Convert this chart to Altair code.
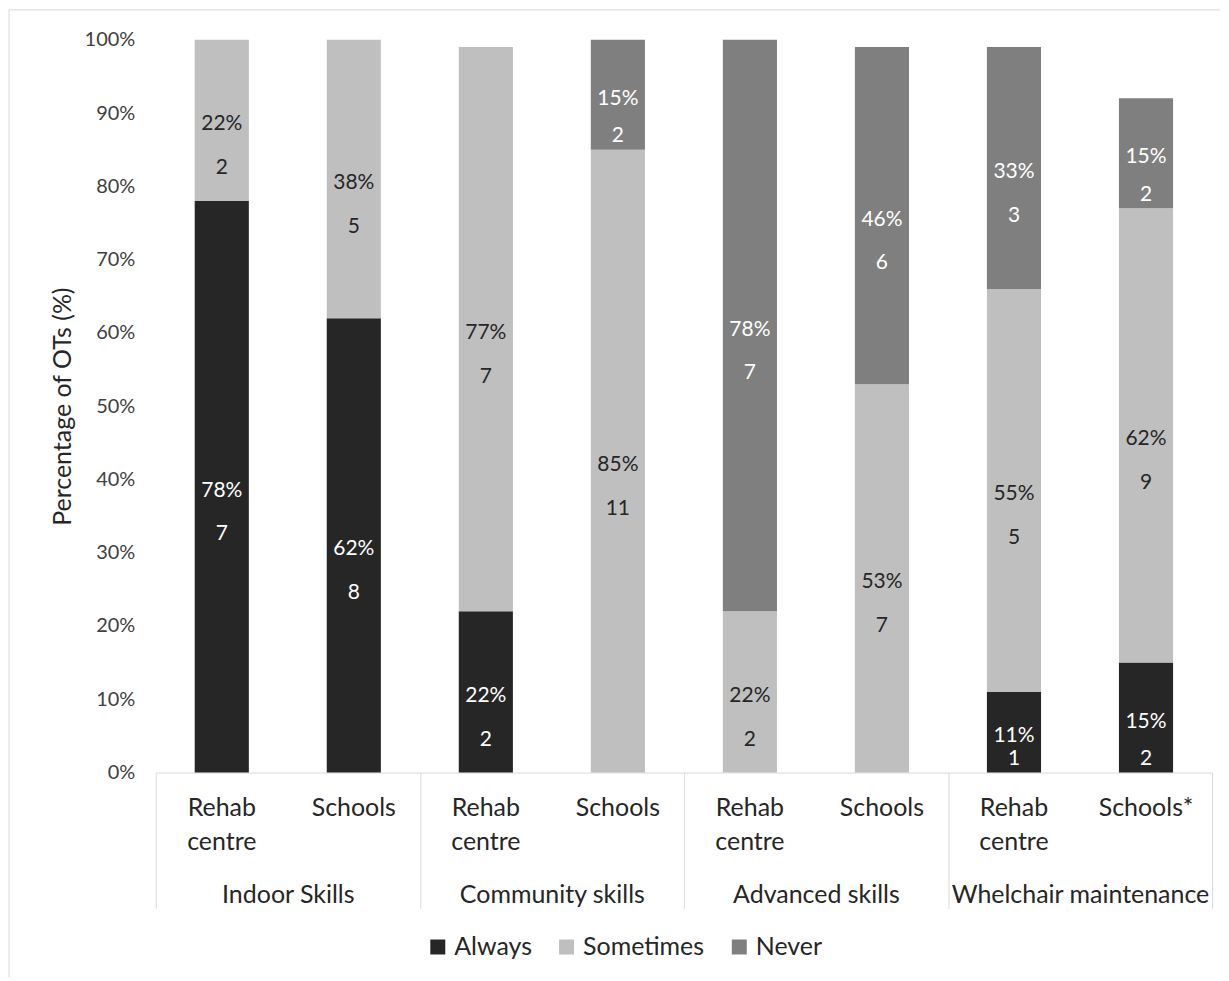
import altair as alt
import pandas as pd

# ---- data ----
groups = ["Indoor Skills", "Community skills", "Advanced skills", "Whelchair maintenance"]
bar_group = ["Indoor Skills", "Indoor Skills", "Community skills", "Community skills",
             "Advanced skills", "Advanced skills", "Whelchair maintenance", "Whelchair maintenance"]
bar_slot = ["Rehab centre", "Schools"] * 4
bar_label = ["Rehab centre", "Schools", "Rehab centre", "Schools",
             "Rehab centre", "Schools", "Rehab centre", "Schools*"]

series = ["Always", "Sometimes", "Never"]
colors = ["#262626", "#bfbfbf", "#7f7f7f"]

always_pct = [78, 62, 22, 0, 0, 0, 11, 15]
sometimes_pct = [22, 38, 77, 85, 22, 53, 55, 62]
never_pct = [0, 0, 0, 15, 78, 46, 33, 15]
always_n = [7, 8, 2, 0, 0, 0, 1, 2]
sometimes_n = [2, 5, 7, 11, 2, 7, 5, 9]
never_n = [0, 0, 0, 2, 7, 6, 3, 2]

y_ticks = list(range(0, 101, 10))

rows = []
for i in range(len(bar_group)):
    for j, (s, p, n) in enumerate(zip(series,
                                      [always_pct[i], sometimes_pct[i], never_pct[i]],
                                      [always_n[i], sometimes_n[i], never_n[i]])):
        if p > 0:
            rows.append(dict(key=i, group=bar_group[i], slot=bar_slot[i], series=s,
                             order=j, pct=p, n=str(n), pct_text=f"{p}%"))
df = pd.DataFrame(rows)
sub_df = pd.DataFrame(dict(group=bar_group, slot=bar_slot, label=bar_label))

W, H = 1058, 734
FONT = "Lato"

x_enc = alt.X("group:N", sort=groups,
              scale=alt.Scale(paddingInner=0, paddingOuter=0),
              axis=alt.Axis(title=None, labelAngle=0, labelFontSize=25, labelColor="#262626",
                            domainColor="#d9d9d9", tickColor="#d9d9d9", tickSize=136,
                            tickBand="extent", labelBaseline="alphabetic", labelPadding=-6,
                            labelLimit=0))
xo = alt.XOffset("slot:N", sort=["Rehab centre", "Schools"],
                 scale=alt.Scale(paddingInner=0.59, paddingOuter=0.295))
y_scale = alt.Scale(domain=[0, 100], nice=False)

base = alt.Chart(df).transform_stack(
    stack="pct", groupby=["key"], sort=[alt.SortField("order", "ascending")], as_=["lo", "hi"]
).transform_calculate(
    mid="(datum.lo + datum.hi) / 2",
    cy="max((datum.lo + datum.hi) / 2 - 6.5, datum.lo + 1.8)"
)

bars = base.mark_bar().encode(
    x=x_enc, xOffset=xo,
    y=alt.Y("lo:Q", scale=y_scale,
            axis=alt.Axis(title="Percentage of OTs (%)", values=y_ticks,
                          labelExpr="datum.value + '%'", ticks=False, domain=False, grid=False,
                          labelFontSize=20, labelColor="#404040", labelPadding=21,
                          titleFontSize=25, titleFontWeight="normal", titleColor="#262626",
                          titlePadding=9)),
    y2="hi:Q",
    color=alt.Color("series:N", scale=alt.Scale(domain=series, range=colors),
                    legend=alt.Legend(title=None, orient="none", legendX=270, legendY=896,
                                      direction="horizontal", symbolType="square",
                                      symbolSize=225, symbolStrokeWidth=0, labelFontSize=25,
                                      labelColor="#262626", labelOffset=4, columnPadding=22,
                                      padding=0))
)

txt_color = alt.condition(alt.datum.series == "Sometimes", alt.value("#262626"), alt.value("white"))

pct_labels = base.mark_text(fontSize=21, baseline="middle", dy=4).encode(
    x=x_enc, xOffset=xo, y=alt.Y("mid:Q", scale=y_scale), text="pct_text:N", color=txt_color
)
n_labels = base.mark_text(fontSize=21, baseline="middle").encode(
    x=x_enc, xOffset=xo, y=alt.Y("cy:Q", scale=y_scale), text="n:N", color=txt_color
)

sub_labels = alt.Chart(sub_df).mark_text(fontSize=25, lineBreak=" ", baseline="alphabetic",
                                         lineHeight=34, color="#262626").encode(
    x=x_enc, xOffset=xo, y=alt.value(H + 44), text="label:N"
)

one = pd.DataFrame({"a": [0]})
top_border = alt.Chart(one).mark_rule(color="#d9d9d9", strokeWidth=1).encode(
    x=alt.value(-147), x2=alt.value(W + 8), y=alt.value(-30))
left_border = alt.Chart(one).mark_rule(color="#d9d9d9", strokeWidth=1).encode(
    x=alt.value(-147), y=alt.value(-30), y2=alt.value(H + 205))

chart = alt.layer(bars, pct_labels, n_labels, sub_labels, top_border, left_border).properties(
    width=W, height=H, padding=0
).configure(font=FONT).configure_view(stroke=None)

chart.save("out.html", embed_options={"renderer": "svg", "actions": False})
